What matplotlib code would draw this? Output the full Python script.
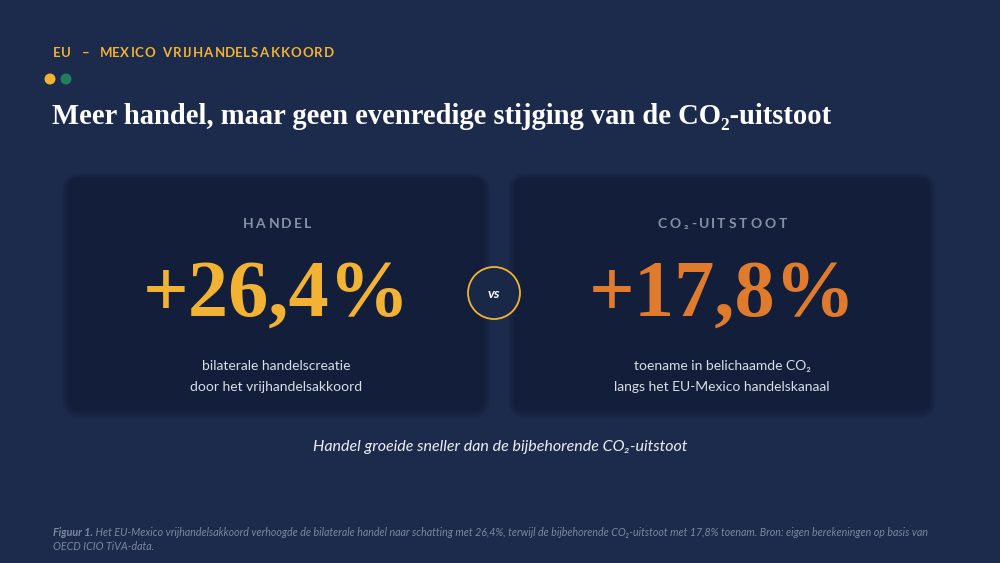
import matplotlib
matplotlib.use("Agg")
import matplotlib.pyplot as plt
from matplotlib.patches import FancyBboxPatch, Circle
from matplotlib.textpath import TextPath
from matplotlib.font_manager import FontProperties

# data
metrics = ["HANDEL", "CO₂-UITSTOOT"]
changes = [26.4, 17.8]
descr = [["bilaterale handelscreatie", "door het vrijhandelsakkoord"],
         ["toename in belichaamde CO₂", "langs het EU-Mexico handelskanaal"]]
value_colors = ["#f2b234", "#e07b2d"]

kicker = "EU  –  MEXICO VRIJHANDELSAKKOORD"
title = "Meer handel, maar geen evenredige stijging van de CO₂-uitstoot"
takeaway = "Handel groeide sneller dan de bijbehorende CO₂-uitstoot"
note_head = "Figuur 1."
note_body = (" Het EU-Mexico vrijhandelsakkoord verhoogde de bilaterale handel naar schatting met 26,4%, "
             "terwijl de bijbehorende CO₂-uitstoot met 17,8% toenam. Bron: eigen berekeningen op basis van")
note_line2 = "OECD ICIO TiVA-data."

BG = "#1c2a4b"
CARD = "#131f3a"
DPI = 100
SANS = ["Lato", "DejaVu Sans"]
SERIF = ["Liberation Serif", "DejaVu Serif"]


def spaced(ax, x, y, s, size, track, color, family, weight="normal", ha="left"):
    # draw text letter by letter with extra tracking (in px)
    fp = FontProperties(family=family, weight=weight, size=size)
    widths = []
    for ch in s:
        if ch == " ":
            w = TextPath((0, 0), "a a", prop=fp).get_extents().width - TextPath((0, 0), "aa", prop=fp).get_extents().width
        else:
            w = TextPath((0, 0), ch, prop=fp).get_extents().width
            w = max(w, 1)
        widths.append(w * DPI / 72)
    total = sum(widths) + track * (len(s) - 1)
    cx = x - total / 2 if ha == "center" else x
    for ch, w in zip(s, widths):
        ax.text(cx, y, ch, fontproperties=fp, color=color, ha="left", va="center")
        cx += w + track


fig = plt.figure(figsize=(10, 5.63), dpi=DPI)
fig.patch.set_facecolor(BG)
ax = fig.add_axes([0, 0, 1, 1])
ax.set_xlim(0, 1000)
ax.set_ylim(563, 0)
ax.axis("off")

# header
spaced(ax, 53, 53, kicker, 9.5, 2.05, "#f2b234", SANS, weight="bold")
ax.add_patch(Circle((50, 79), 5.5, color="#f2b234", lw=0))
ax.add_patch(Circle((66, 79), 5.5, color="#1f7f5f", lw=0))
ax.text(52, 117, title, fontfamily=SERIF, fontweight="bold", fontsize=20.6,
        color="white", ha="left", va="center")

# cards
card_x = [68, 514]
card_w, card_h, card_y = 416, 233, 177
for i in range(len(metrics)):
    x0 = card_x[i]
    for k in range(8, 0, -1):
        ax.add_patch(FancyBboxPatch((x0 - k + 2, card_y - k + 4), card_w + 2 * k - 4, card_h + 2 * k - 4,
                                    boxstyle="round,pad=0,rounding_size=%d" % (10 + k),
                                    fc="#0b1428", ec="none", alpha=0.06))
    ax.add_patch(FancyBboxPatch((x0, card_y), card_w, card_h,
                                boxstyle="round,pad=0,rounding_size=10", fc=CARD, ec="none"))
    cx = x0 + card_w / 2
    spaced(ax, cx, 224, metrics[i], 10, 3.8, "#8791a6", SANS, weight="bold", ha="center")
    label = ("+%.1f%%" % changes[i]).replace(".", ",")
    ax.text(cx, 296, label, fontfamily=SERIF, fontweight="bold", fontsize=58,
            color=value_colors[i], ha="center", va="center")
    ax.text(cx, 366, descr[i][0], fontfamily=SANS, fontsize=10, color="#d9dde6",
            ha="center", va="center")
    ax.text(cx, 387, descr[i][1], fontfamily=SANS, fontsize=10, color="#d9dde6",
            ha="center", va="center")

# vs badge
ax.add_patch(Circle((494, 293), 26, fc="#1a2848", ec="#f2b234", lw=1.3))
ax.text(494, 294, "vs", fontfamily=SANS, fontstyle="italic", fontweight="bold", fontsize=10,
        color="white", ha="center", va="center")

ax.text(500, 447, takeaway, fontfamily=SANS, fontstyle="italic", fontsize=11.5,
        color="#eef0f5", ha="center", va="center")

# footnote
t = ax.text(53, 533, note_head, fontfamily=SANS, fontstyle="italic", fontweight="bold",
            fontsize=7.7, color="#7d88a0", ha="left", va="center")
fig.canvas.draw()
bb = t.get_window_extent()
ax.text(53 + bb.width, 533, note_body, fontfamily=SANS, fontstyle="italic",
        fontsize=7.7, color="#7d88a0", ha="left", va="center")
ax.text(53, 547, note_line2, fontfamily=SANS, fontstyle="italic",
        fontsize=7.7, color="#7d88a0", ha="left", va="center")

fig.savefig("out.png", dpi=DPI, facecolor=BG)
